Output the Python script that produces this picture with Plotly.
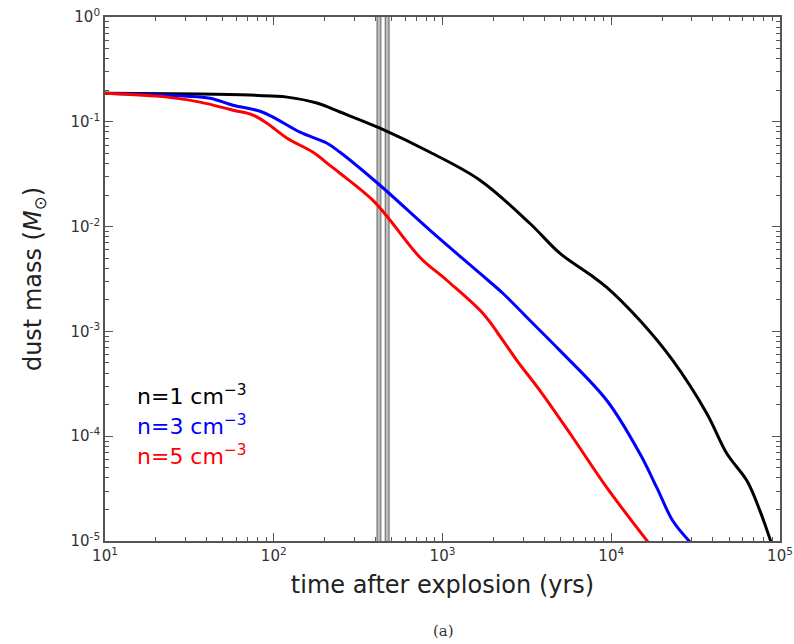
import plotly.graph_objects as go

# ---- data ----
t_n1 = [10, 36.6, 72, 97.6, 120, 180, 247, 426, 844, 1668, 3300, 4970, 7480, 9440,
        14800, 23200, 36900, 48500, 63700, 76100, 88400]
m_n1 = [0.187, 0.184, 0.180, 0.176, 0.172, 0.151, 0.124, 0.0869, 0.0512, 0.0277, 0.0107,
        0.00555, 0.00349, 0.00262, 0.00127, 5.26e-4, 1.64e-4, 6.79e-5, 3.75e-5, 1.94e-5, 9.8e-6]

t_n3 = [10, 29, 41.9, 57.4, 83, 99, 143, 207, 247, 426, 844, 1668, 2285, 3300, 4970,
        9440, 14800, 18650, 23200, 29300]
m_n3 = [0.187, 0.176, 0.168, 0.144, 0.126, 0.111, 0.0796, 0.0624, 0.0512, 0.0248, 0.0092,
        0.00357, 0.0023, 0.00127, 6.55e-4, 2.18e-4, 6.79e-5, 3.21e-5, 1.55e-5, 9.8e-6]

t_n5 = [10, 23.3, 36.6, 57.4, 75.3, 91.2, 120, 171, 215, 247, 387, 489, 736, 1064, 1738,
        2285, 2763, 3780, 5930, 9440, 16500]
m_n5 = [0.187, 0.172, 0.154, 0.129, 0.116, 0.097, 0.0697, 0.0512, 0.0384, 0.0323, 0.0178,
        0.0115, 0.00508, 0.00306, 0.00148, 8.17e-4, 5.26e-4, 2.72e-4, 9.66e-5, 3.21e-5, 9.8e-6]

vline_years = [420, 470]
y_span = [1e-5, 1]

series_labels = ["n=1 cm<sup>−3</sup>", "n=3 cm<sup>−3</sup>", "n=5 cm<sup>−3</sup>"]
series_colors = ["#000000", "#0000ff", "#ff0000"]

x_tickvals = [10, 100, 1000, 10000, 100000]
x_ticktext = ["10<sup>1</sup>", "10<sup>2</sup>", "10<sup>3</sup>", "10<sup>4</sup>", "10<sup>5</sup>"]
y_tickvals = [1e-5, 1e-4, 1e-3, 1e-2, 1e-1, 1]
y_ticktext = ["10<sup>-5</sup>", "10<sup>-4</sup>", "10<sup>-3</sup>", "10<sup>-2</sup>",
              "10<sup>-1</sup>", "10<sup>0</sup>"]

FONT = "DejaVu Sans"

fig = go.Figure()

# vertical reference lines
for xv in vline_years:
    fig.add_trace(go.Scatter(x=[xv, xv], y=y_span, mode="lines",
                             line=dict(color="#7a7a7a", width=5), showlegend=False,
                             hoverinfo="skip"))
    fig.add_trace(go.Scatter(x=[xv, xv], y=y_span, mode="lines",
                             line=dict(color="#bdbdbd", width=2.5), showlegend=False,
                             hoverinfo="skip"))

for t, m, c in [(t_n1, m_n1, series_colors[0]), (t_n3, m_n3, series_colors[1]),
                (t_n5, m_n5, series_colors[2])]:
    fig.add_trace(go.Scatter(x=t, y=m, mode="lines",
                             line=dict(color=c, width=3, shape="spline", smoothing=1.0),
                             showlegend=False))

axis_common = dict(
    type="log", showgrid=False, zeroline=False, showline=True, linecolor="#555555",
    linewidth=1.8, mirror="allticks", ticks="inside", ticklen=8, tickwidth=1,
    tickcolor="#555555", tickfont=dict(family=FONT, size=15, color="#333333"),
    minor=dict(ticks="inside", ticklen=4, tickwidth=1, tickcolor="#555555", dtick="D1"),
    automargin=False,
)

fig.update_xaxes(**axis_common, range=[1, 5], tickvals=x_tickvals, ticktext=x_ticktext,
                 title=dict(text="time after explosion (yrs)",
                            font=dict(family=FONT, size=24, color="#222222"), standoff=12))
fig.update_yaxes(**axis_common, range=[-5, 0], tickvals=y_tickvals, ticktext=y_ticktext,
                 title=dict(text="dust mass (<i>M</i><sub>⊙</sub>)",
                            font=dict(family=FONT, size=24, color="#222222"), standoff=22))

legend_y = [0.279, 0.221, 0.164]
for lab, col, yy in zip(series_labels, series_colors, legend_y):
    fig.add_annotation(text=lab, xref="paper", yref="paper", x=0.045, y=yy,
                       xanchor="left", yanchor="middle", showarrow=False,
                       font=dict(family=FONT, size=22, color=col))

fig.add_annotation(text="(a)", xref="paper", yref="paper", x=0.501, y=-0.172,
                   xanchor="center", yanchor="middle", showarrow=False,
                   font=dict(family="DejaVu Serif", size=15, color="#333333"))

fig.update_layout(width=794, height=644, margin=dict(l=105, r=14, t=17, b=103),
                  plot_bgcolor="white", paper_bgcolor="white")

fig.write_html("out.html")
